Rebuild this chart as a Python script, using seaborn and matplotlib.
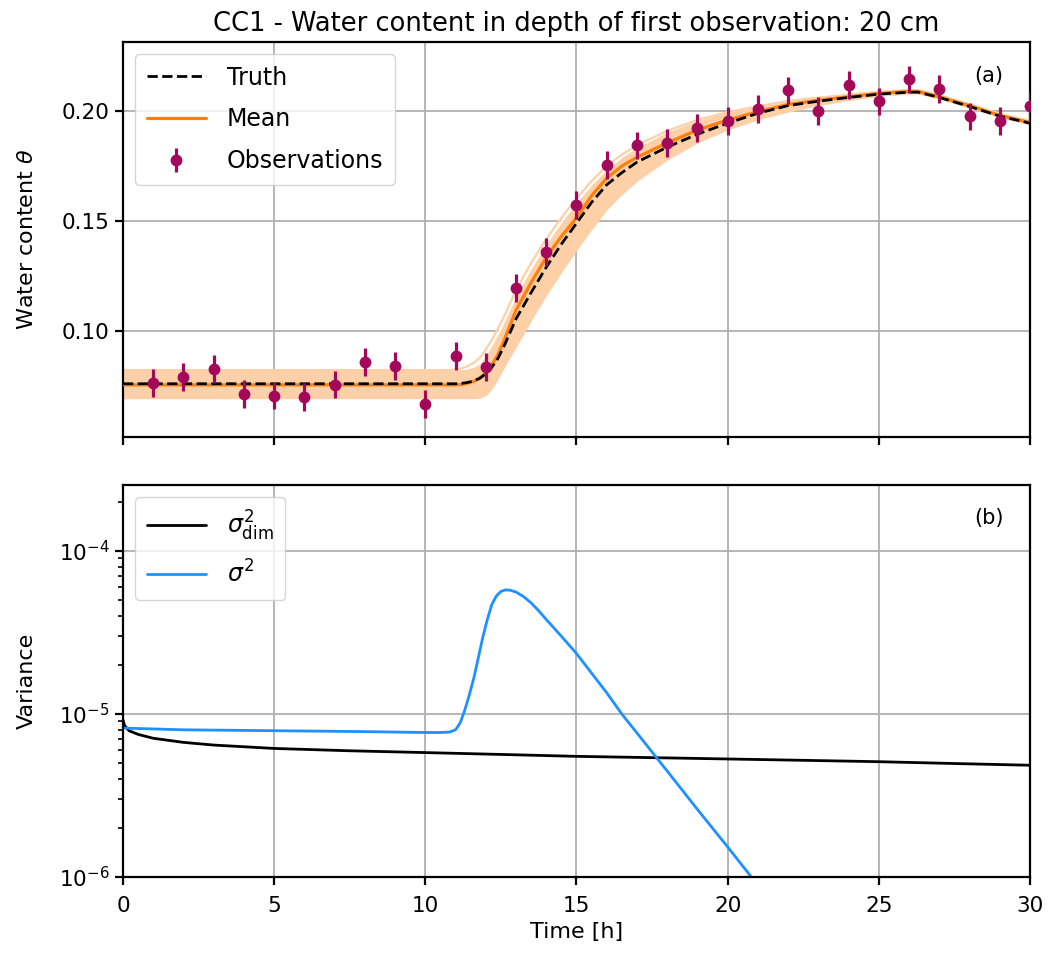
import numpy as np
import pandas as pd
import matplotlib
matplotlib.use("Agg")
import matplotlib.pyplot as plt
import seaborn as sns
from matplotlib.ticker import LogLocator, NullFormatter

# ---------------- data ----------------
obs_t = [1, 2, 3, 4, 5, 6, 7, 8, 9, 10, 11, 12, 13, 14, 15, 16, 17, 18, 19, 20,
         21, 22, 23, 24, 25, 26, 27, 28, 29, 30]
obs_v = [0.0764, 0.0791, 0.0827, 0.0714, 0.0705, 0.0700, 0.0755, 0.0859, 0.0841, 0.0668,
         0.0886, 0.0836, 0.1195, 0.1359, 0.1573, 0.1755, 0.1845, 0.1855, 0.1923, 0.1955,
         0.2009, 0.2095, 0.2000, 0.2118, 0.2045, 0.2145, 0.2100, 0.1977, 0.1955, 0.2023]
obs_err = [0.0062] * 30

curve_t = [0, 5, 10, 10.5, 10.8, 11.0, 11.2, 11.4, 11.6, 11.8, 12.0, 12.2, 12.4, 12.6,
           12.8, 13.0, 13.5, 14.0, 14.5, 15.0, 15.5, 16.0, 16.5, 17, 18, 19, 20, 21, 22,
           23, 24, 25, 26, 26.3, 27, 28, 29, 30]
truth = [0.0760, 0.0760, 0.0760, 0.0760, 0.0760, 0.0760, 0.0762, 0.0766, 0.0773, 0.0785,
         0.0805, 0.0835, 0.0875, 0.0930, 0.0992, 0.1055, 0.1175, 0.1290, 0.1395, 0.1490,
         0.1585, 0.1665, 0.1720, 0.1768, 0.1836, 0.1895, 0.1945, 0.1990, 0.2025, 0.2045,
         0.2062, 0.2077, 0.2086, 0.2086, 0.2062, 0.2021, 0.1977, 0.1945]
mean = [0.0755, 0.0755, 0.0755, 0.0755, 0.0755, 0.0755, 0.0757, 0.0762, 0.0771, 0.0786,
        0.0810, 0.0845, 0.0892, 0.0955, 0.1025, 0.1095, 0.1220, 0.1335, 0.1430, 0.1515,
        0.1615, 0.1695, 0.1750, 0.1790, 0.1855, 0.1914, 0.1959, 0.1997, 0.2030, 0.2049,
        0.2065, 0.2080, 0.2089, 0.2089, 0.2065, 0.2024, 0.1980, 0.1948]
ens_up = [0.0822, 0.0822, 0.0822, 0.0822, 0.0823, 0.0824, 0.0826, 0.0829, 0.0836, 0.0852,
          0.0890, 0.0935, 0.0985, 0.1040, 0.1100, 0.1160, 0.1285, 0.1395, 0.1495, 0.1585,
          0.1665, 0.1735, 0.1790, 0.1835, 0.1905, 0.1958, 0.1995, 0.2022, 0.2046, 0.2061,
          0.2075, 0.2088, 0.2096, 0.2096, 0.2072, 0.2031, 0.1987, 0.1955]
ens_low = [0.0692, 0.0692, 0.0692, 0.0692, 0.0692, 0.0692, 0.0692, 0.0692, 0.0692, 0.0694,
           0.0705, 0.0735, 0.0780, 0.0830, 0.0880, 0.0925, 0.1045, 0.1160, 0.1265, 0.1365,
           0.1460, 0.1550, 0.1620, 0.1680, 0.1777, 0.1855, 0.1914, 0.1960, 0.1995, 0.2025,
           0.2048, 0.2067, 0.2078, 0.2078, 0.2054, 0.2013, 0.1969, 0.1937]
# one ensemble member running slightly ahead of the rest
ens_member = [0.0822, 0.0822, 0.0822, 0.0822, 0.0823, 0.0825, 0.0830, 0.0840, 0.0855, 0.0878,
              0.0915, 0.0960, 0.1010, 0.1065, 0.1125, 0.1185, 0.1310, 0.1418, 0.1515, 0.1603,
              0.1682, 0.1750, 0.1802, 0.1845, 0.1910, 0.1960, 0.1995, 0.2022, 0.2046, 0.2061,
              0.2075, 0.2088, 0.2096, 0.2096, 0.2072, 0.2031, 0.1987, 0.1955]

var_t = [0, 2, 5, 8, 10, 10.5, 10.8, 11.0, 11.15, 11.3, 11.45, 11.6, 11.75, 11.9, 12.05,
         12.2, 12.35, 12.5, 12.65, 12.8, 13.0, 13.25, 13.5, 13.75, 14.0, 14.5, 15.0, 15.5,
         16.0, 16.5, 17, 18, 19, 20, 21, 22]
sigma2 = [8.2e-6, 8.0e-6, 7.9e-6, 7.8e-6, 7.7e-6, 7.7e-6, 7.75e-6, 8.0e-6, 8.8e-6, 1.05e-5,
          1.3e-5, 1.65e-5, 2.2e-5, 2.95e-5, 3.8e-5, 4.7e-5, 5.3e-5, 5.65e-5, 5.77e-5, 5.75e-5,
          5.6e-5, 5.25e-5, 4.8e-5, 4.3e-5, 3.8e-5, 3.0e-5, 2.35e-5, 1.78e-5, 1.35e-5, 1.0e-5,
          7.65e-6, 4.47e-6, 2.6e-6, 1.53e-6, 8.9e-7, 5.2e-7]
dim_t = [0, 0.05, 0.2, 0.5, 1, 2, 3, 5, 7.5, 10, 12.5, 15, 17.5, 20, 22.5, 25, 27.5, 30]
sigma2_dim = [9.2e-6, 8.5e-6, 7.9e-6, 7.5e-6, 7.1e-6, 6.7e-6, 6.45e-6, 6.15e-6, 5.95e-6,
              5.8e-6, 5.65e-6, 5.5e-6, 5.4e-6, 5.3e-6, 5.2e-6, 5.1e-6, 4.97e-6, 4.85e-6]

title = "CC1 - Water content in depth of first observation: 20 cm"

# ---------------- style ----------------
sns.set_theme(style="ticks")
plt.rcParams.update({
    "font.family": ["DejaVu Sans"],
    "mathtext.fontset": "dejavusans",
    "font.size": 15,
    "text.color": "black",
    "axes.labelcolor": "black",
    "axes.edgecolor": "black",
    "axes.linewidth": 1.6,
    "xtick.color": "black",
    "ytick.color": "black",
    "xtick.major.width": 1.6,
    "ytick.major.width": 1.6,
    "xtick.major.size": 6,
    "ytick.major.size": 6,
    "xtick.major.pad": 8,
    "ytick.minor.width": 1.2,
    "ytick.minor.size": 3.5,
    "grid.color": "#b0b0b0",
    "grid.linewidth": 1.3,
})

fig = plt.figure(figsize=(10.54, 9.64), dpi=100)
ax1 = fig.add_axes([0.1167, 0.5467, 0.8605, 0.4097])
ax2 = fig.add_axes([0.1167, 0.0902, 0.8605, 0.4067], sharex=ax1)

df = pd.DataFrame({"t": curve_t, "truth": truth, "mean": mean,
                   "low": ens_low, "up": ens_up, "member": ens_member})

band_color = "#fdd0a8"
ax1.fill_between(df["t"], df["low"], df["up"], color=band_color, lw=0, zorder=1)
ax1.plot(df["t"], df["up"], color="white", lw=1.2, zorder=1.5)
sns.lineplot(data=df, x="t", y="member", ax=ax1, color=band_color, lw=1.6, zorder=1.6)
sns.lineplot(data=df, x="t", y="mean", ax=ax1, color="#ff7f0e", lw=2.3, label="Mean", zorder=3)
sns.lineplot(data=df, x="t", y="truth", ax=ax1, color="black", lw=2.0, ls="--",
             label="Truth", zorder=4)
ax1.errorbar(obs_t, obs_v, yerr=obs_err, fmt="o", color="#a3085a", ms=7.5,
             elinewidth=2.3, capsize=0, label="Observations", zorder=5)

ax1.set_xlim(0, 30)
ax1.set_ylim(0.0518, 0.2314)
ax1.set_yticks([0.10, 0.15, 0.20])
ax1.set_yticklabels(["0.10", "0.15", "0.20"])
ax1.grid(True)
ax1.set_xlabel("")
ax1.set_ylabel(r"Water content $\theta$", fontsize=16, labelpad=18)
ax1.set_title(title, fontsize=18.5, pad=8)
ax1.tick_params(labelbottom=False, labelsize=15.5)
h, l = ax1.get_legend_handles_labels()
order = [l.index("Truth"), l.index("Mean"), l.index("Observations")]
leg_kw = dict(loc="upper left", fontsize=17, handlelength=2.5, borderpad=0.5,
              labelspacing=0.75, handletextpad=0.9, fancybox=True, framealpha=0.8,
              edgecolor="#cccccc")
ax1.legend([h[i] for i in order], [l[i] for i in order], **leg_kw)
ax1.text(0.955, 0.915, "(a)", transform=ax1.transAxes, ha="center", va="center", fontsize=15)

dfv = pd.DataFrame({"t": var_t, "v": sigma2})
dfd = pd.DataFrame({"t": dim_t, "v": sigma2_dim})
sns.lineplot(data=dfd, x="t", y="v", ax=ax2, color="black", lw=2,
             label=r"$\sigma^2_{\mathsf{dim}}$")
sns.lineplot(data=dfv, x="t", y="v", ax=ax2, color="#1e90ff", lw=2, label=r"$\sigma^2$")
ax2.set_yscale("log")
ax2.set_ylim(1e-6, 2.54e-4)
ax2.set_xlim(0, 30)
ax2.yaxis.set_major_locator(LogLocator(base=10, numticks=10))
ax2.yaxis.set_minor_locator(LogLocator(base=10, subs=np.arange(2, 10), numticks=20))
ax2.yaxis.set_minor_formatter(NullFormatter())
ax2.set_xticks([0, 5, 10, 15, 20, 25, 30])
ax2.grid(True, which="major")
ax2.tick_params(labelsize=15.5)
ax2.set_xlabel("Time [h]", fontsize=16)
ax2.set_ylabel("Variance", fontsize=16, labelpad=16)
ax2.legend(**leg_kw)
ax2.text(0.955, 0.915, "(b)", transform=ax2.transAxes, ha="center", va="center", fontsize=15)

fig.savefig("out.png", dpi=100)
